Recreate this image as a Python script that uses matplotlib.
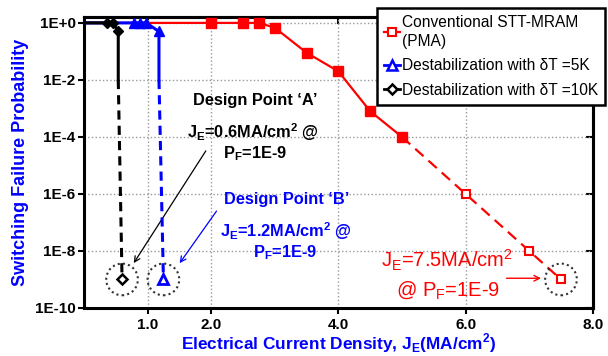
import matplotlib
matplotlib.use("Agg")
import matplotlib.pyplot as plt
from matplotlib.lines import Line2D

plt.rcParams['font.family'] = ['Liberation Sans', 'DejaVu Sans']
plt.rcParams['mathtext.fontset'] = 'custom'
plt.rcParams['mathtext.rm'] = 'Liberation Sans'
plt.rcParams['mathtext.bf'] = 'Liberation Sans:bold'

# conventional STT-MRAM (PMA): solid simulated part, dashed extrapolation
conv_x = [0.0, 2.0, 2.5, 2.75, 3.0, 3.5, 4.0, 4.5, 5.0]
conv_y = [1.0, 1.0, 1.0, 1.0, 0.68, 0.09, 0.02, 8e-4, 1e-4]
conv_ext_x = [5.0, 6.0, 7.0, 7.5]
conv_ext_y = [1e-4, 1e-6, 1e-8, 1e-9]

# destabilization dT = 5K
d5_x = [0.0, 0.78, 0.88, 0.98, 1.18, 1.18]
d5_y = [1.0, 1.0, 1.0, 1.0, 0.5, 1e-2]
d5_ext_x = [1.18, 1.25]
d5_ext_y = [1e-2, 1e-9]

# destabilization dT = 10K
d10_x = [0.0, 0.37, 0.46, 0.54, 0.54]
d10_y = [1.0, 1.0, 1.0, 0.5, 1e-2]
d10_ext_x = [0.54, 0.6]
d10_ext_y = [1e-2, 1e-9]

design_x = [0.6, 1.25, 7.5]
design_y = [1e-9, 1e-9, 1e-9]

yticks = [1e0, 1e-2, 1e-4, 1e-6, 1e-8, 1e-10]
ytick_labels = ['1E+0', '1E-2', '1E-4', '1E-6', '1E-8', '1E-10']
xticks = [1.0, 2.0, 4.0, 6.0, 8.0]
xtick_labels = ['1.0', '2.0', '4.0', '6.0', '8.0']

fig = plt.figure(figsize=(6.08, 3.56), dpi=100)
ax = fig.add_axes([0.138, 0.135, 0.837, 0.817])

ax.plot(conv_x, conv_y, color='red', lw=1.6, marker='s', ms=6.5,
        markevery=list(range(1, len(conv_x))), zorder=3)
ax.plot(conv_ext_x, conv_ext_y, color='red', lw=1.6, ls=(0, (5, 3)), zorder=3)
ax.plot(conv_ext_x[1:], conv_ext_y[1:], ls='none', marker='s', ms=6,
        mfc='white', mec='red', mew=1.5, zorder=4)

ax.plot(d5_x, d5_y, color='blue', lw=2.2, marker='^', ms=7,
        markevery=[1, 2, 3, 4], zorder=4)
ax.plot(d5_ext_x, d5_ext_y, color='blue', lw=2.2, ls=(0, (3, 2)), zorder=4)
ax.plot(d5_ext_x[1:], d5_ext_y[1:], ls='none', marker='^', ms=7,
        mfc='white', mec='blue', mew=2, zorder=5)

ax.plot(d10_x, d10_y, color='black', lw=2.2, marker='D', ms=5,
        markevery=[1, 2, 3], zorder=5)
ax.plot(d10_ext_x, d10_ext_y, color='black', lw=2.2, ls=(0, (3, 2)), zorder=5)
ax.plot(d10_ext_x[1:], d10_ext_y[1:], ls='none', marker='D', ms=5,
        mfc='white', mec='black', mew=1.8, zorder=6)

# dotted circles around design points
ax.scatter(design_x, design_y, s=520, facecolors='none', edgecolors='#333333',
           linestyles=(0, (1, 1.5)), linewidths=1.5, zorder=6)

ax.set_yscale('log')
ax.set_ylim(1e-10, 1.6)
ax.set_xlim(0, 8)
ax.set_yticks(yticks)
ax.set_yticklabels(ytick_labels)
ax.minorticks_off()
ax.set_xticks(xticks)
ax.set_xticklabels(xtick_labels)
for lab in ax.get_xticklabels() + ax.get_yticklabels():
    lab.set_fontweight('bold')
    lab.set_fontsize(11)
ax.tick_params(direction='out', length=4, width=1.5, pad=2)
ax.tick_params(axis='x', pad=3)
ax.grid(True, ls=':', color='#999999', lw=1)
for sp in ax.spines.values():
    sp.set_linewidth(2.2)

# inward ticks on top and right
top = ax.secondary_xaxis('top')
top.set_xticks(xticks)
top.tick_params(direction='in', length=5, width=1.5, labeltop=False)
right = ax.secondary_yaxis('right')
right.set_yticks(yticks)
right.minorticks_off()
right.tick_params(direction='in', length=5, width=1.5, labelright=False)
top.spines['top'].set_linewidth(2.2)
right.spines['right'].set_linewidth(2.2)

ax.set_ylabel('Switching Failure Probability', color='blue', fontsize=13,
              fontweight='bold', labelpad=4)
ax.set_xlabel(r'Electrical Current Density, J$_\mathbf{E}$(MA/cm$^\mathbf{2}$)',
              color='blue', fontsize=12.4, fontweight='bold', labelpad=0)

# design point A
ax.text(2.69, 1.95e-3, "Design Point \u2018A\u2019", ha='center', va='center',
        fontsize=11.8, fontweight='bold')
ax.text(2.66, 1.5e-4, r'J$_\mathbf{E}$=0.6MA/cm$^\mathbf{2}$ @',
        ha='center', va='center', fontsize=11.8, fontweight='bold')
ax.text(2.69, 2.6e-5, r'P$_\mathbf{F}$=1E-9', ha='center', va='center',
        fontsize=11.8, fontweight='bold')
ax.annotate('', xy=(0.76, 3.1e-9), xytext=(1.94, 3.9e-5),
            arrowprops=dict(arrowstyle='->', color='black', lw=0.9))

# design point B
ax.text(3.18, 6.6e-7, "Design Point \u2018B\u2019", ha='center', va='center',
        fontsize=11.8, fontweight='bold', color='blue')
ax.text(3.18, 5.1e-8, r'J$_\mathbf{E}$=1.2MA/cm$^\mathbf{2}$ @',
        ha='center', va='center', fontsize=11.8, fontweight='bold', color='blue')
ax.text(3.16, 8.8e-9, r'P$_\mathbf{F}$=1E-9', ha='center', va='center',
        fontsize=11.8, fontweight='bold', color='blue')
ax.annotate('', xy=(1.48, 3.1e-9), xytext=(2.11, 3e-7),
            arrowprops=dict(arrowstyle='->', color='blue', lw=0.9))

# conventional design point
ax.text(5.7, 4.7e-9, r'J$_\mathrm{E}$=7.5MA/cm$^\mathrm{2}$',
        ha='center', va='center', fontsize=14.5, color='red')
ax.text(5.73, 4.2e-10, r'@ P$_\mathrm{F}$=1E-9', ha='center', va='center',
        fontsize=14.5, color='red')
ax.annotate('', xy=(7.23, 1.1e-9), xytext=(6.6, 1.1e-9),
            arrowprops=dict(arrowstyle='->', color='red', lw=1))

handles = [
    Line2D([], [], color='red', lw=1.6, marker='s', ms=6, mfc='white', mew=1.5),
    Line2D([], [], color='blue', lw=2, marker='^', ms=7, mfc='white', mew=1.8),
    Line2D([], [], color='black', lw=2, marker='D', ms=5, mfc='white', mew=1.8),
]
labels = ['Conventional STT-MRAM\n(PMA)',
          'Destabilization with \u03b4T =5K',
          'Destabilization with \u03b4T =10K']
leg = fig.legend(handles, labels, loc='upper left', bbox_to_anchor=(0.62, 0.978),
                 fontsize=11.2, handlelength=1.05, handletextpad=0.1,
                 borderpad=0.45, labelspacing=0.6, fancybox=False,
                 framealpha=1, edgecolor='black', borderaxespad=0)
leg.get_frame().set_linewidth(1.8)
leg.get_texts()[0].set_linespacing(1.35)
leg.set_zorder(10)

fig.savefig('out.png', dpi=100)
